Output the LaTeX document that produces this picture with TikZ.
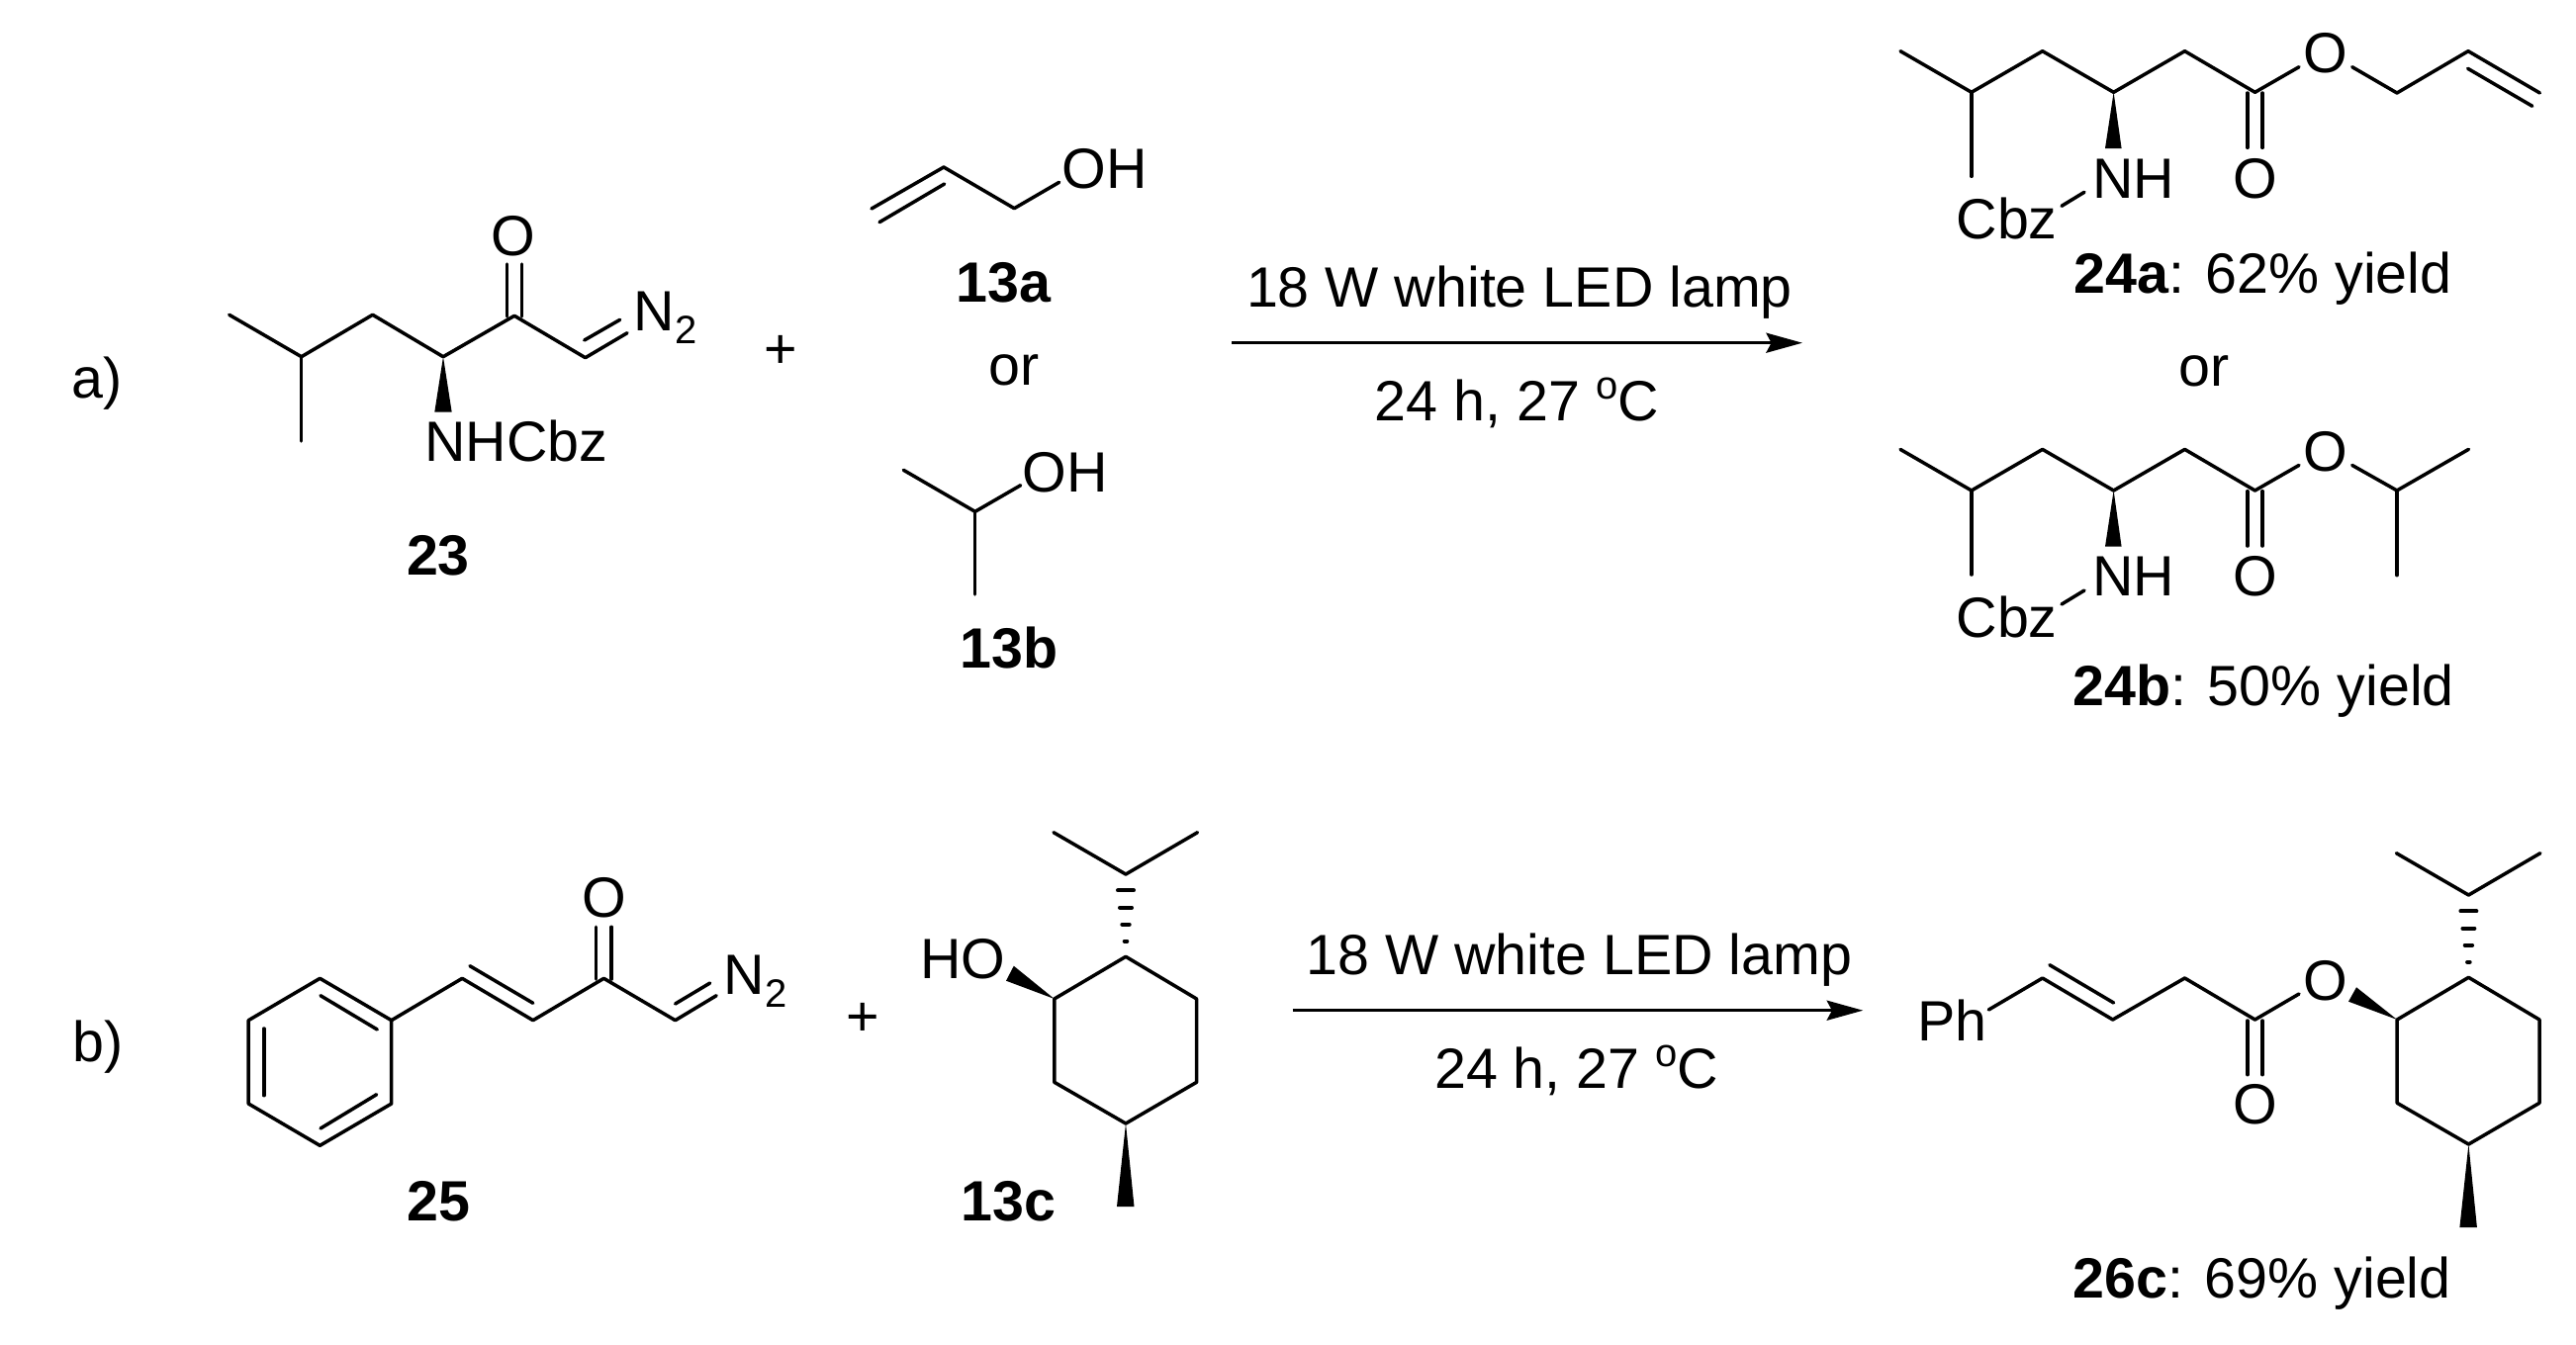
\documentclass[tikz,border=0pt]{standalone}
\usepackage{fontspec}
\setmainfont{Liberation Sans}
\usetikzlibrary{arrows.meta}
\newcommand{\subtwo}{\raisebox{-6.8pt}{\fontsize{20}{20}\selectfont 2}}
\newcommand{\degc}{\raisebox{10.8pt}{\fontsize{20}{20}\selectfont o}C}
% iso-butyl / beta-amino ester backbone shared by 24a and 24b
\newcommand{\estermol}[2]{%
  \begin{scope}[yshift=#2*-0.5pt]
  \coordinate (#1me) at (1921,51.7);
  \coordinate (#1ch) at (1992.9,93.3);
  \coordinate (#1mf) at (1992.9,178.3);
  \coordinate (#1cb) at (2064.7,51.7);
  \coordinate (#1cs) at (2136.6,93.3);
  \coordinate (#1cc) at (2208.5,51.7);
  \coordinate (#1co) at (2279.5,93.3);
  \coordinate (#1oe) at (2324,67.7);
  \coordinate (#1oa) at (2377.7,67.7);
  \coordinate (#1da) at (2271.9,94);
  \coordinate (#1db) at (2271.9,149.3);
  \coordinate (#1dc) at (2287,94);
  \coordinate (#1dd) at (2287,149.3);
  \coordinate (#1wa) at (2128,150);
  \coordinate (#1wb) at (2144.6,150);
  \coordinate (#1na) at (2084,208.3);
  \coordinate (#1nb) at (2107,194.3);
  \draw[bond] (#1me)--(#1ch)--(#1cb)--(#1cs)--(#1cc)--(#1co)--(#1oe);
  \draw[bond] (#1ch)--(#1mf);
  \draw[bond] (#1da)--(#1db);
  \draw[bond] (#1dc)--(#1dd);
  \draw[bond] (#1na)--(#1nb);
  \fill (#1cs)--(#1wa)--(#1wb)--cycle;
  \node[lab] (#1O) at (2351,73.3) {O};
  \node[lab] (#1Oc) at (2279.5,200) {O};
  \node[lab] (#1NH) at (2156.7,200) {NH};
  \node[lab] (#1Cbz) at (2028.6,241.7) {Cbz};
  \end{scope}}
% menthyl ring: #1 prefix, #2/#3 offset relative to 13c
\newcommand{\menthyl}[3]{%
  \begin{scope}[shift={(#2,#3)}]
  \coordinate (#1a) at (1065.8,1010);
  \coordinate (#1b) at (1138,967.3);
  \coordinate (#1c) at (1209.6,1010);
  \coordinate (#1d) at (1209.6,1094.3);
  \coordinate (#1e) at (1138,1136);
  \coordinate (#1f) at (1065.8,1094.3);
  \coordinate (#1p) at (1138,884);
  \coordinate (#1q) at (1065,841.7);
  \coordinate (#1r) at (1210.5,841.7);
  \coordinate (#1wa) at (1129,1220);
  \coordinate (#1wb) at (1146.5,1220);
  \draw[bond] (#1a)--(#1b)--(#1c)--(#1d)--(#1e)--(#1f)--cycle;
  \draw[bond] (#1q)--(#1p)--(#1r);
  \fill (#1e)--(#1wa)--(#1wb)--cycle;
  \draw[bond,line width=2pt]
    (1130,900.3)--(1146,900.3) (1132,917.7)--(1144,917.7)
    (1134.3,934.7)--(1141.7,934.7) (1136.7,951.7)--(1139.3,951.7);
  \end{scope}}
\tikzset{
  bond/.style={line width=1.75pt,line cap=round,line join=round},
  lab/.style={anchor=base,inner sep=0pt,outer sep=0pt,text=black},
  rxn/.style={line width=1.6pt,-{Stealth[length=18.3pt,width=10pt,inset=2.6pt]}},
}
\begin{document}
\begin{tikzpicture}[x=0.5pt,y=-0.5pt,font=\fontsize{28.7}{32}\selectfont]
\useasboundingbox (0,0) rectangle (2604,1360);

% ---------- a) ----------
\node[lab] (lblA) at (98.3,402.7) {a)};
% 23
\coordinate (a1) at (231.7,318.3);
\coordinate (a2) at (304.7,360.7);
\coordinate (a3) at (304.7,446);
\coordinate (a4) at (376.7,318.3);
\coordinate (a5) at (448,360.7);
\coordinate (a6) at (520,319.3);
\coordinate (a7) at (591.7,361.7);
\coordinate (a8) at (634,336.7);
\coordinate (a9) at (590.7,344);
\coordinate (a10) at (626.7,323.3);
\coordinate (a11) at (512.7,320);
\coordinate (a12) at (512.7,267);
\coordinate (a13) at (527.7,320);
\coordinate (a14) at (527.7,267);
\coordinate (a15) at (439.3,416.7);
\coordinate (a16) at (456.7,416.7);
\draw[bond] (a1)--(a2)--(a4)--(a5)--(a6)--(a7)--(a8);
\draw[bond] (a2)--(a3);
\draw[bond] (a9)--(a10);
\draw[bond] (a11)--(a12);
\draw[bond] (a13)--(a14);
\fill (a5)--(a15)--(a16)--cycle;
\node[lab] (aO) at (519.3,258.3) {O};
\node[lab] (aN) at (672.5,334) {N\subtwo};
\node[lab] (aNH) at (521.7,466.7) {NHCbz};
\node[lab] (c23) at (443,581.7) {\textbf{23}};
\node[lab] (plusA) at (789,372) {+};

% 13a
\coordinate (b1) at (881,211);
\coordinate (b2) at (954,169);
\coordinate (b3) at (1025.3,210.7);
\coordinate (b4) at (1070.7,184.3);
\coordinate (b5) at (889,224.7);
\coordinate (b6) at (954.7,186);
\draw[bond] (b1)--(b2)--(b3)--(b4);
\draw[bond] (b5)--(b6);
\node[lab] (bOH) at (1116.7,190.7) {OH};
\node[lab] (c13a) at (1015,305.7) {\textbf{13a}};
\node[lab] (orA) at (1025.3,389.3) {or};
% 13b
\coordinate (d1) at (913.3,475.3);
\coordinate (d2) at (985.7,517.3);
\coordinate (d3) at (1031.7,490.7);
\coordinate (d4) at (985.7,601);
\draw[bond] (d1)--(d2)--(d3);
\draw[bond] (d2)--(d4);
\node[lab] (dOH) at (1077,497.7) {OH};
\node[lab] (c13b) at (1020,675) {\textbf{13b}};

% arrow a
\coordinate (ra1) at (1245.3,346.7);
\coordinate (ra2) at (1822,346.7);
\draw[rxn] (ra1)--(ra2);
\node[lab] (ta1) at (1536,310.7) {18 W white LED lamp};
\node[lab] (ta2) at (1533.3,425) {24 h, 27 \degc};

% 24a
\estermol{e}{0}
\coordinate (e1) at (2423,94);
\coordinate (e2) at (2495,51.7);
\coordinate (e3) at (2567.4,94);
\coordinate (e4) at (2494.6,69.3);
\coordinate (e5) at (2559.8,107.3);
\draw[bond] (eoa)--(e1)--(e2)--(e3);
\draw[bond] (e4)--(e5);
\node[lab] (c24a) at (2287.3,296.5) {\textbf{24a}: 62\% yield};
\node[lab] (orB) at (2228.3,390) {or};
% 24b
\estermol{f}{402.7}
\coordinate (f1) at (2423,496);
\coordinate (f2) at (2495.5,454.3);
\coordinate (f3) at (2423,581.7);
\draw[bond] (foa)--(f1)--(f2);
\draw[bond] (f1)--(f3);
\node[lab] (c24b) at (2288.3,713) {\textbf{24b}: 50\% yield};

% ---------- b) ----------
\node[lab] (lblB) at (98.8,1073.3) {b)};
% 25
\coordinate (g1) at (323.4,989.3);
\coordinate (g2) at (395.7,1031.7);
\coordinate (g3) at (395.7,1116);
\coordinate (g4) at (323.4,1158.3);
\coordinate (g5) at (251.2,1116);
\coordinate (g6) at (251.2,1031.7);
\coordinate (g7) at (324,1006.7);
\coordinate (g8) at (381.3,1041);
\coordinate (g9) at (266.8,1040);
\coordinate (g10) at (266.8,1107.7);
\coordinate (g11) at (324,1141);
\coordinate (g12) at (380.7,1106.7);
\coordinate (h1) at (467.2,989.3);
\coordinate (h2) at (538.8,1031.7);
\coordinate (h3) at (610.4,989.3);
\coordinate (h4) at (682.6,1031.7);
\coordinate (h5) at (724.2,1006.7);
\coordinate (h6) at (682.6,1015);
\coordinate (h7) at (717.7,994);
\coordinate (h8) at (475,976.7);
\coordinate (h9) at (538.8,1014.3);
\coordinate (h10) at (602.6,990);
\coordinate (h11) at (602.6,937.3);
\coordinate (h12) at (618.2,990);
\coordinate (h13) at (618.2,937.3);
\draw[bond] (g1)--(g2)--(g3)--(g4)--(g5)--(g6)--cycle;
\draw[bond] (g7)--(g8);
\draw[bond] (g9)--(g10);
\draw[bond] (g11)--(g12);
\draw[bond] (g2)--(h1)--(h2)--(h3)--(h4)--(h5);
\draw[bond] (h6)--(h7);
\draw[bond] (h8)--(h9);
\draw[bond] (h10)--(h11);
\draw[bond] (h12)--(h13);
\node[lab] (hO) at (610.4,927.7) {O};
\node[lab] (hN) at (763.5,1005) {N\subtwo};
\node[lab] (c25) at (443.8,1234) {\textbf{25}};
\node[lab] (plusB) at (872.6,1047.7) {+};

% 13c
\menthyl{m}{0}{0}
\coordinate (mo1) at (1024.8,976.7);
\coordinate (mo2) at (1017,991.7);
\fill (ma)--(mo1)--(mo2)--cycle;
\node[lab] (mHO) at (973.5,989.3) {HO};
\node[lab] (c13c) at (1019.6,1234) {\textbf{13c}};

% arrow b
\coordinate (rb1) at (1306.5,1021.7);
\coordinate (rb2) at (1883.3,1021.7);
\draw[rxn] (rb1)--(rb2);
\node[lab] (tb1) at (1596.3,985.7) {18 W white LED lamp};
\node[lab] (tb2) at (1593.8,1100) {24 h, 27 \degc};

% 26c
\coordinate (k1) at (2010.3,1021);
\coordinate (k2) at (2064.7,989);
\coordinate (k3) at (2135.7,1031);
\coordinate (k4) at (2208.5,989);
\coordinate (k5) at (2279.5,1031);
\coordinate (k6) at (2324,1005);
\coordinate (k7) at (2071.9,975.7);
\coordinate (k8) at (2136.6,1014);
\coordinate (k9) at (2271.9,1032);
\coordinate (k10) at (2271.9,1086.7);
\coordinate (k11) at (2287,1032);
\coordinate (k12) at (2287,1086.7);
\draw[bond] (k1)--(k2)--(k3)--(k4)--(k5)--(k6);
\draw[bond] (k7)--(k8);
\draw[bond] (k9)--(k10);
\draw[bond] (k11)--(k12);
\node[lab] (kPh) at (1973.6,1052.7) {Ph};
\node[lab] (kO) at (2351,1011) {O};
\node[lab] (kOc) at (2279.5,1136.7) {O};
\menthyl{n}{1357.4}{21}
\coordinate (no1) at (2382,998.3);
\coordinate (no2) at (2374,1012.7);
\fill (na)--(no1)--(no2)--cycle;
\node[lab] (c26c) at (2286.7,1312.7) {\textbf{26c}: 69\% yield};
\end{tikzpicture}
\end{document}
